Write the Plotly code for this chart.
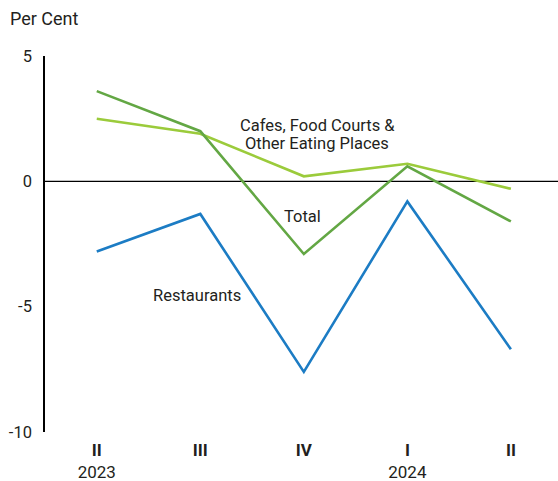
import plotly.graph_objects as go

quarters = ["II", "III", "IV", "I", "II"]
years = ["2023", "", "", "2024", ""]
restaurants = [-2.8, -1.3, -7.6, -0.8, -6.7]
total = [3.6, 2.0, -2.9, 0.6, -1.6]
cafes = [2.5, 1.9, 0.2, 0.7, -0.3]

x = list(range(len(quarters)))
ticktext = [f"<b>{q}</b><br>{y}" if y else f"<b>{q}</b><br> " for q, y in zip(quarters, years)]

FONT = "Roboto"
TXT = "#231f20"

W, H = 558, 481
L, T, B = 45, 56, 49
PW, PH = W - L, H - T - B

fig = go.Figure()
fig.add_trace(go.Scatter(x=x, y=cafes, mode="lines", line=dict(color="#9bcb3b", width=2.6),
                         name="Cafes, Food Courts & Other Eating Places"))
fig.add_trace(go.Scatter(x=x, y=total, mode="lines", line=dict(color="#63a744", width=2.6),
                         name="Total"))
fig.add_trace(go.Scatter(x=x, y=restaurants, mode="lines", line=dict(color="#1c7cc4", width=2.6),
                         name="Restaurants"))

fig.add_shape(type="line", xref="paper", yref="y", x0=0, x1=1, y0=0, y1=0,
              line=dict(color="black", width=1.2), layer="below")

ann_font = dict(family=FONT, size=16.5, color=TXT)
fig.add_annotation(x=2.13, y=2.23, xref="x", yref="y", text="Cafes, Food Courts &",
                   showarrow=False, font=ann_font)
fig.add_annotation(x=2.13, y=1.52, xref="x", yref="y", text="Other Eating Places",
                   showarrow=False, font=ann_font)
fig.add_annotation(x=1.99, y=-1.42, xref="x", yref="y", text="Total",
                   showarrow=False, font=ann_font)
fig.add_annotation(x=0.97, y=-4.55, xref="x", yref="y", text="Restaurants",
                   showarrow=False, font=ann_font)
fig.add_annotation(x=-(L - 8) / PW, y=1 + (T - 18) / PH, xref="paper", yref="paper",
                   text="Per Cent", showarrow=False,
                   font=dict(family=FONT, size=18, color=TXT),
                   xanchor="left", yanchor="middle")

fig.update_layout(
    width=W, height=H,
    margin=dict(l=L, r=0, t=T, b=B, pad=0),
    plot_bgcolor="white", paper_bgcolor="white",
    showlegend=False, hovermode=False,
    font=dict(family=FONT, size=17, color=TXT),
    xaxis=dict(range=[-0.5, 4.455], tickmode="array", tickvals=x, ticktext=ticktext,
               showgrid=False, zeroline=False, showline=False, ticks="",
               ticklabelstandoff=6,
               tickfont=dict(family=FONT, size=17, color=TXT)),
    yaxis=dict(range=[-10, 5], tickvals=[5, 0, -5, -10], ticktext=["5", "0", "-5", "-10"],
               showgrid=False, zeroline=False, showline=True, linecolor="black", linewidth=1.5,
               ticks="", ticklabelstandoff=8,
               tickfont=dict(family=FONT, size=16.5, color=TXT)),
)

fig.write_html("out.html", config={"displayModeBar": False},
               post_script="document.body.style.margin='0';document.body.style.overflow='hidden';")
